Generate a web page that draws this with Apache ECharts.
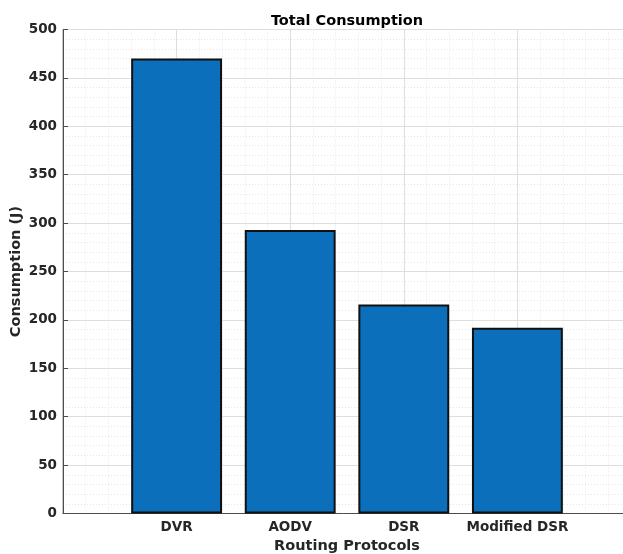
<!DOCTYPE html>
<html>
<head>
<meta charset="utf-8">
<script src="https://cdn.jsdelivr.net/npm/echarts@6/dist/echarts.min.js"></script>
<style>
html,body{margin:0;padding:0;background:#fff;}
#chart{width:623px;height:554px;}
</style>
</head>
<body>
<div id="chart"></div>
<script>
const categories = ['DVR', 'AODV', 'DSR', 'Modified DSR'];
const positions = [1, 2, 3, 4];
const consumption = [470, 293, 216, 192];
const yTicks = [0, 50, 100, 150, 200, 250, 300, 350, 400, 450, 500];

const chart = echarts.init(document.getElementById('chart'), null, {renderer: 'canvas'});
const font = 'DejaVu Sans';
const txt = '#262626';
const gridW = 568;
chart.setOption({
  animation: false,
  backgroundColor: '#ffffff',
  title: {
    text: 'Total Consumption',
    left: 342, top: 9, textAlign: 'center',
    textStyle: {fontFamily: font, fontWeight: 'bold', fontSize: 14.5, color: '#000'}
  },
  grid: {left: 63, top: 29.5, width: gridW, height: 484, containLabel: false, outerBoundsMode: 'none',
    show: true, borderColor: '#8c8c8c', borderWidth: 1, backgroundColor: 'transparent'},
  xAxis: {
    type: 'value', min: 0, max: 5, interval: 1,
    name: 'Routing Protocols', nameLocation: 'middle', nameGap: 25, nameMoveOverlap: false,
    nameTextStyle: {fontFamily: font, fontWeight: 'bold', fontSize: 14.5, color: txt},
    axisLine: {show: true, onZero: false, lineStyle: {color: '#4d4d4d', width: 1}},
    axisTick: {show: true, inside: true, length: 5, lineStyle: {color: '#4d4d4d'}},
    axisLabel: {
      fontFamily: font, fontWeight: 'bold', fontSize: 13.5, color: txt, margin: 7,
      formatter: v => { const i = positions.indexOf(v); return i >= 0 ? categories[i] : ''; }
    },
    splitLine: {show: true, lineStyle: {color: '#dedede', width: 1}},
    minorTick: {show: false, splitNumber: 5},
    minorSplitLine: {show: true, lineStyle: {color: '#e6e6e6', type: [1, 2], width: 1}}
  },
  yAxis: {
    type: 'value', min: 0, max: 500, interval: 50,
    name: 'Consumption (J)', nameLocation: 'middle', nameGap: 39, nameMoveOverlap: false,
    nameTextStyle: {fontFamily: font, fontWeight: 'bold', fontSize: 14.5, color: txt},
    axisLine: {show: true, lineStyle: {color: '#4d4d4d', width: 1}},
    axisTick: {show: true, inside: true, length: 5, lineStyle: {color: '#4d4d4d'}},
    axisLabel: {fontFamily: font, fontWeight: 'bold', fontSize: 13.5, color: txt, margin: 6,
      formatter: v => yTicks.includes(v) ? String(v) : ''},
    splitLine: {show: true, lineStyle: {color: '#dedede', width: 1}},
    minorTick: {show: false, splitNumber: 5},
    minorSplitLine: {show: true, lineStyle: {color: '#e6e6e6', type: [1, 2], width: 1}}
  },
  series: [{
    type: 'bar',
    data: positions.map((p, i) => [p, consumption[i]]),
    barWidth: gridW / 5 * 0.8,
    itemStyle: {color: '#0b6fbb', borderColor: '#111111', borderWidth: 2},
    z: 2
  }]
});
</script>
</body>
</html>
